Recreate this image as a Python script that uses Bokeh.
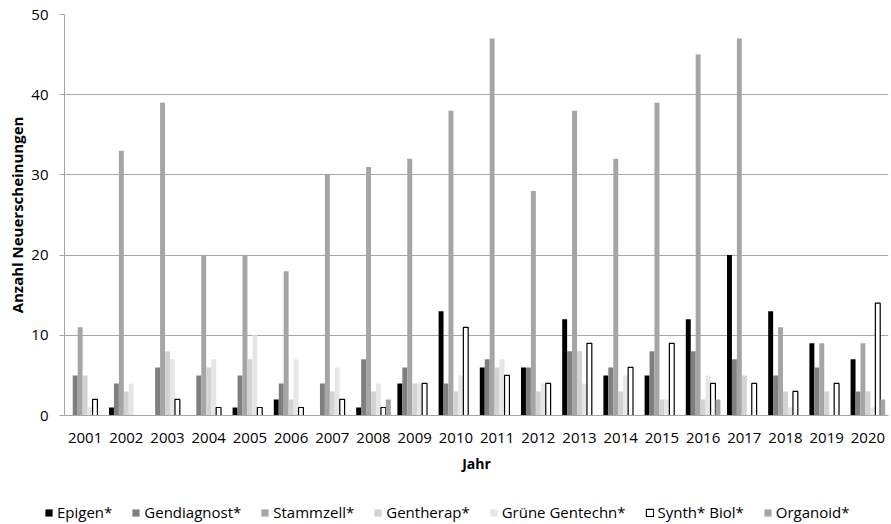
from bokeh.plotting import figure
from bokeh.layouts import column
from bokeh.models import FactorRange, Range1d, ColumnDataSource, Legend, LegendItem, SingleIntervalTicker
from bokeh.transform import dodge
from bokeh.embed import file_html
from bokeh.resources import INLINE

years = [str(y) for y in range(2001, 2021)]
epigen = [0, 1, 0, 0, 1, 2, 0, 1, 4, 13, 6, 6, 12, 5, 5, 12, 20, 13, 9, 7]
gendiagnost = [5, 4, 6, 5, 5, 4, 4, 7, 6, 4, 7, 6, 8, 6, 8, 8, 7, 5, 6, 3]
stammzell = [11, 33, 39, 20, 20, 18, 30, 31, 32, 38, 47, 28, 38, 32, 39, 45, 47, 11, 9, 9]
gentherap = [5, 3, 8, 6, 7, 2, 3, 3, 4, 3, 6, 3, 8, 3, 2, 2, 5, 3, 3, 3]
gruene = [1, 4, 7, 7, 10, 7, 6, 4, 4, 5, 7, 4, 4, 5, 2, 5, 0, 1, 0, 1]
synth = [2, 0, 2, 1, 1, 1, 2, 1, 4, 11, 5, 4, 9, 6, 9, 4, 4, 3, 4, 14]
organoid = [0, 0, 0, 0, 0, 0, 0, 2, 0, 0, 0, 0, 0, 0, 0, 2, 0, 0, 0, 2]

series_names = ["Epigen*", "Gendiagnost*", "Stammzell*", "Gentherap*",
                "Grüne Gentechn*", "Synth* Biol*", "Organoid*"]
series_keys = ["epigen", "gendiagnost", "stammzell", "gentherap", "gruene", "synth", "organoid"]
fill_colors = ["#000000", "#7f7f7f", "#a5a5a5", "#d2d2d2", "#e6e6e6", "#ffffff", "#a5a5a5"]
line_colors = [None, None, None, None, None, "#000000", None]

source = ColumnDataSource(data=dict(years=years, epigen=epigen, gendiagnost=gendiagnost,
                                    stammzell=stammzell, gentherap=gentherap, gruene=gruene,
                                    synth=synth, organoid=organoid))

FONT = "Open Sans"

p = figure(x_range=FactorRange(*years), y_range=Range1d(0, 50),
           width=891, height=500, output_backend="svg", toolbar_location=None,
           min_border_left=64, min_border_right=3, min_border_top=14, min_border_bottom=85)

bw = 0.12
for i, key in enumerate(series_keys):
    off = (i - 3) * bw
    kw = {}
    if line_colors[i] is None:
        kw["line_color"] = None
    else:
        kw["line_color"] = line_colors[i]
        kw["line_width"] = 1.2
    p.vbar(x=dodge("years", off, range=p.x_range), top=key,
           width=bw * 0.98 if line_colors[i] else bw,
           bottom=0, source=source, fill_color=fill_colors[i], **kw)

p.outline_line_color = None
p.background_fill_color = "white"
p.border_fill_color = "white"

p.xgrid.grid_line_color = None
p.ygrid.grid_line_color = "#a6a6a6"
p.ygrid.grid_line_width = 1
p.yaxis.ticker = SingleIntervalTicker(interval=10)

for ax in (p.xaxis, p.yaxis):
    ax.axis_line_color = "#a6a6a6"
    ax.major_label_text_font = FONT
    ax.major_label_text_font_size = "15px"
    ax.major_label_text_color = "#000000"
    ax.axis_label_text_font = FONT
    ax.axis_label_text_font_style = "bold"
    ax.axis_label_text_color = "#000000"
    ax.minor_tick_line_color = None

p.yaxis.major_tick_line_color = "#a6a6a6"
p.yaxis.major_tick_out = 5
p.yaxis.major_tick_in = 0
p.yaxis.major_label_standoff = 11
p.yaxis.axis_label = "Anzahl Neuerscheinungen"
p.yaxis.axis_label_text_font_size = "15px"
p.yaxis.axis_label_standoff = 1

p.xaxis.major_tick_line_color = None
p.xaxis.major_label_standoff = 11
p.xaxis.axis_label = "Jahr"
p.xaxis.axis_label_text_font_size = "14px"
p.xaxis.axis_label_standoff = 8

# Legend strip: swatch renderers sit outside the visible range, only their legend glyphs show
lf = figure(width=891, height=24, x_range=Range1d(0, 1), y_range=Range1d(0, 1),
            output_backend="svg", toolbar_location=None, x_axis_type=None, y_axis_type=None,
            min_border=0)
lf.frame_align = False
lf.outline_line_color = None
lf.xgrid.grid_line_color = None
lf.ygrid.grid_line_color = None
lf.background_fill_color = "white"
lf.border_fill_color = "white"

items = []
for i, name in enumerate(series_names):
    kw = {"line_color": None} if line_colors[i] is None else {"line_color": line_colors[i], "line_width": 1.2}
    r = lf.vbar(x=[-5], top=[-5], bottom=[-6], width=0.1, fill_color=fill_colors[i], **kw)
    items.append(LegendItem(label=name, renderers=[r]))

legend = Legend(items=items, orientation="horizontal", location=(44, 2))
legend.label_text_font = FONT
legend.label_text_font_size = "15px"
legend.label_text_color = "#000000"
legend.glyph_width = 9
legend.glyph_height = 9
legend.label_standoff = 4
legend.spacing = 19
legend.padding = 0
legend.margin = 0
legend.border_line_color = None
legend.background_fill_alpha = 0
lf.add_layout(legend, "center")

layout = column(p, lf, spacing=0)
open("out.html", "w").write(file_html(layout, INLINE))
